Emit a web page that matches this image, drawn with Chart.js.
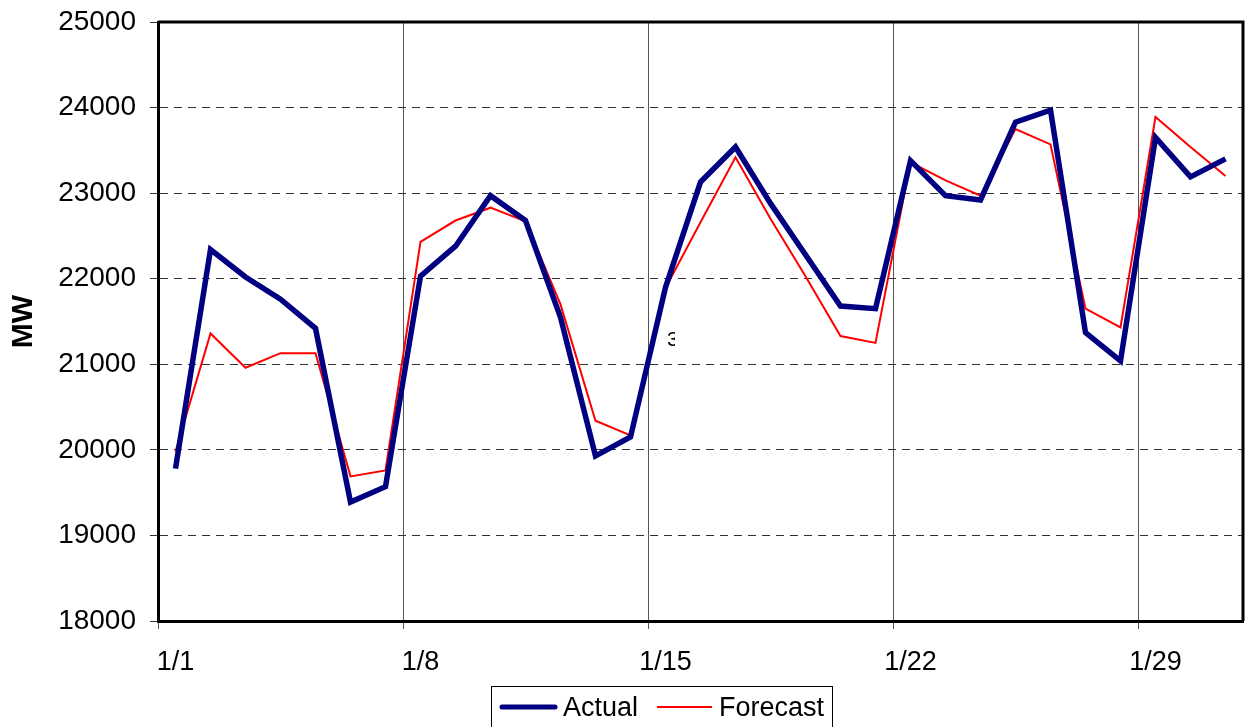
<!DOCTYPE html>
<html>
<head>
<meta charset="utf-8">
<script src="https://cdn.jsdelivr.net/npm/chart.js@4/dist/chart.umd.min.js"></script>
<style>
  html,body{margin:0;padding:0;background:#fff;}
  #wrap{width:1249px;height:727px;}
</style>
</head>
<body>
<div id="wrap"><canvas id="c" width="1249" height="727"></canvas></div>
<script>
const days = Array.from({length:31}, (_, i) => '1/' + (i + 1));
const actual = [19780, 22340, 22020, 21760, 21420, 19390, 19570, 22030, 22380, 22970,
  22680, 21550, 19930, 20150, 21900, 23130, 23540, 22880, 22280, 21680,
  21650, 23380, 22970, 22920, 23830, 23970, 21370, 21040, 23650, 23190, 23400];
const forecast = [19980, 21360, 20960, 21130, 21130, 19690, 19760, 22430, 22680, 22830,
  22670, 21700, 20340, 20170, 21890, 22660, 23420, 22700, 22030, 21330,
  21250, 23360, 23150, 22970, 23750, 23570, 21650, 21430, 23890, 23540, 23200];
const yMin = 18000, yMax = 25000, yStep = 1000;
const FONT = 'Liberation Sans, Arial, sans-serif';

const frame = {
  id:'frame',
  afterDraw(chart){
    const {ctx, chartArea:a} = chart;
    ctx.save();
    // top and right edges of plot box
    ctx.strokeStyle='#000'; ctx.lineWidth=3;
    ctx.beginPath();
    ctx.moveTo(a.left, a.top); ctx.lineTo(a.right, a.top); ctx.lineTo(a.right, a.bottom);
    ctx.stroke();
    // stray label fragment
    ctx.beginPath(); ctx.rect(660, 325, 15, 30); ctx.clip();
    ctx.fillStyle='#000'; ctx.font='21px '+FONT; ctx.textBaseline='middle';
    ctx.fillText('3', 667, 340);
    ctx.restore();
    // legend
    ctx.save();
    ctx.strokeStyle='#000'; ctx.lineWidth=1;
    ctx.strokeRect(491.5, 686.5, 341, 50);
    ctx.lineCap='round';
    ctx.strokeStyle='#000080'; ctx.lineWidth=5;
    ctx.beginPath(); ctx.moveTo(502, 707); ctx.lineTo(555, 707); ctx.stroke();
    ctx.strokeStyle='#ff0000'; ctx.lineWidth=2; ctx.lineCap='butt';
    ctx.beginPath(); ctx.moveTo(657, 707); ctx.lineTo(712, 707); ctx.stroke();
    ctx.fillStyle='#000'; ctx.font='27px '+FONT; ctx.textBaseline='middle';
    ctx.fillText('Actual', 563, 709);
    ctx.fillText('Forecast', 719, 709);
    ctx.restore();
  }
};

new Chart(document.getElementById('c'), {
  type:'line',
  data:{
    labels:days,
    datasets:[
      {label:'Actual', data:actual, borderColor:'#000080', borderWidth:5.5,
       pointRadius:0, tension:0, borderJoinStyle:'miter'},
      {label:'Forecast', data:forecast, borderColor:'#ff0000', borderWidth:2,
       pointRadius:0, tension:0}
    ]
  },
  options:{
    responsive:false, animation:false, devicePixelRatio:1,
    layout:{padding:{top:22, right:6, left:0, bottom:0}},
    plugins:{legend:{display:false}, tooltip:{enabled:false}},
    scales:{
      x:{
        offset:true,
        grid:{offset:true, drawOnChartArea:true, tickLength:8,
          color:c => c.index % 7 === 0 ? '#555' : 'rgba(0,0,0,0)',
          tickColor:c => c.index % 7 === 0 ? '#555' : 'rgba(0,0,0,0)'},
        border:{color:'#000', width:3},
        ticks:{autoSkip:false, maxRotation:0, padding:17, color:'#000',
          font:{family:FONT, size:27},
          callback:(v, i) => i % 7 === 0 ? days[i] : ''},
        afterFit(s){ s.height = 106; s.paddingLeft = 0; s.paddingRight = 0; }
      },
      y:{
        min:yMin, max:yMax,
        grid:{color:'#333', tickColor:'#333', tickLength:8},
        border:{color:'#000', width:3, dash:[8,6]},
        ticks:{stepSize:yStep, padding:14, color:'#000', font:{family:FONT, size:28},
          callback:v => String(v)},
        title:{display:true, text:'MW', color:'#000', padding:{top:6, bottom:0},
          font:{family:FONT, size:30, weight:'bold'}},
        afterFit(s){ s.width = 158; s.paddingTop = 0; s.paddingBottom = 0; }
      }
    }
  },
  plugins:[frame]
});
</script>
</body>
</html>
